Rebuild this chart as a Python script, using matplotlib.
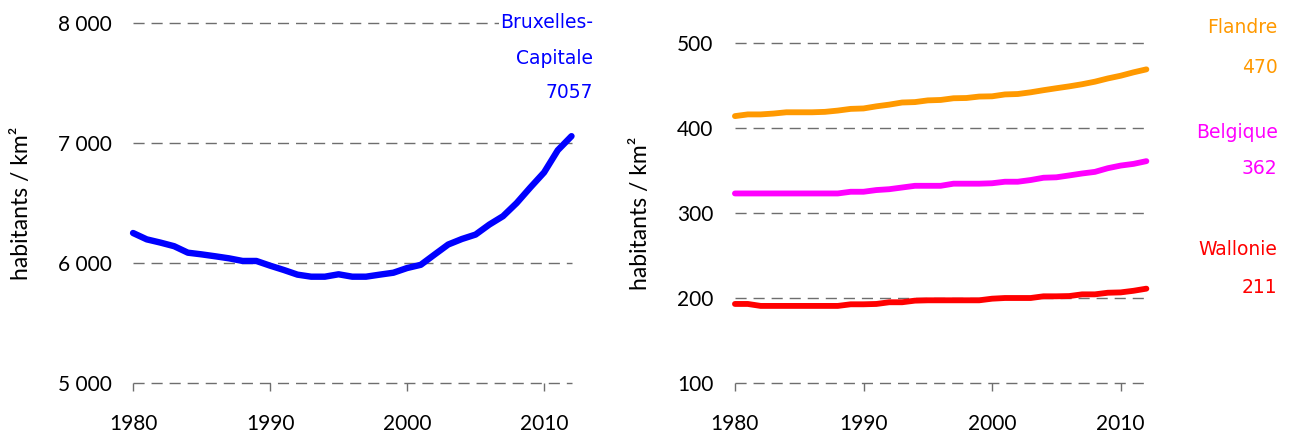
import numpy as np
import matplotlib
matplotlib.use('Agg')
import matplotlib.pyplot as plt

# Densité de population (habitants / km²), 1980-2012
annees = list(range(1980, 2013))

bruxelles = [6250, 6197, 6170, 6140, 6086, 6072, 6056, 6039, 6017, 6017,
             5978, 5942, 5903, 5886, 5886, 5906, 5886, 5886, 5903, 5919,
             5958, 5985, 6070, 6154, 6200, 6237, 6320, 6390, 6500, 6630,
             6755, 6940, 7057]

flandre = [414, 416, 416, 417, 418.5, 418.5, 418.5, 419, 420.5, 422.5,
           423, 425.5, 427.5, 430, 430.5, 432.5, 433, 435, 435.3, 437,
           437.3, 439.5, 440, 442, 444.5, 446.8, 449, 451.5, 454.5, 458.3,
           461.5, 465.5, 469]

belgique = [323, 323, 323, 323, 323, 323, 323, 323, 323, 325,
            325, 327, 328, 330, 332, 332, 332, 334.5, 334.5, 334.5,
            335, 336.8, 336.8, 338.8, 341.5, 342, 344.2, 346.5, 348.4, 352.7,
            355.8, 357.8, 361]

wallonie = [193, 193, 190.7, 190.7, 190.7, 190.7, 190.7, 190.7, 190.7, 192.6,
            192.6, 193, 195, 195, 196.9, 197.3, 197.3, 197.3, 197.3, 197.3,
            199.2, 200, 200, 200, 202, 202, 202.3, 204.3, 204.3, 206.2,
            206.6, 208.5, 211]

BLEU = '#0000FF'
ORANGE = '#FF9900'
MAGENTA = '#FF00FF'
ROUGE = '#FF0000'
GRIS = '#6E6E6E'

plt.rcParams['font.family'] = 'Lato'

fig = plt.figure(figsize=(12.93, 4.34), dpi=100)
ax1 = fig.add_axes([0.1029, 0.1175, 0.3391, 0.8295])
ax2 = fig.add_axes([0.5684, 0.1175, 0.3182, 0.7834])


def habiller(ax, yticks, ylabels, xlab):
    for s in ax.spines.values():
        s.set_visible(False)
    ax.set_xlim(1980, 2012)
    ax.set_ylim(yticks[0], yticks[-1])
    ax.set_yticks(yticks, labels=ylabels)
    ax.set_xticks([1980, 1990, 2000, 2010])
    # quadrillage pointillé (non coupé au bord de l'axe)
    for y in yticks:
        ax.axhline(y, color=GRIS, linestyle=(0, (8, 5)), linewidth=1,
                   clip_on=False, zorder=1)
    ax.tick_params(axis='y', length=0, pad=15.5, labelsize=15)
    ax.tick_params(axis='x', length=5.8, width=1, color=GRIS, pad=16.5,
                   labelsize=15)
    ax.set_ylabel('habitants / km²', fontsize=16.5)
    ax.yaxis.set_label_coords(xlab, 0.5)


# --- Bruxelles-Capitale
habiller(ax1, [5000, 6000, 7000, 8000], ['5 000', '6 000', '7 000', '8 000'],
         -0.231)
ax1.plot(annees, bruxelles, color=BLEU, lw=4.6, clip_on=False,
         solid_capstyle='round', zorder=3)
for txt, y in [('Bruxelles-', 8008), ('Capitale', 7708),
               ('{:d}'.format(bruxelles[-1]), 7417)]:
    ax1.text(2013.6, y, txt, color=BLEU, ha='right', va='center',
             fontsize=13.5, family='DejaVu Sans', clip_on=False, zorder=4,
             bbox=dict(facecolor='white', edgecolor='none', pad=1))

# --- Flandre, Belgique, Wallonie
habiller(ax2, [100, 200, 300, 400, 500], ['100', '200', '300', '400', '500'],
         -0.204)
for serie, coul in [(flandre, ORANGE), (belgique, MAGENTA), (wallonie, ROUGE)]:
    ax2.plot(annees, serie, color=coul, lw=4.2, clip_on=False,
             solid_capstyle='round', zorder=3)

etiquettes = [('Flandre', 518.8, ORANGE), ('470', 470.6, ORANGE),
              ('Belgique', 395.3, MAGENTA), ('362', 352.9, MAGENTA),
              ('Wallonie', 256.5, ROUGE), ('211', 211.8, ROUGE)]
for txt, y, coul in etiquettes:
    ax2.text(2022.2, y, txt, color=coul, ha='right', va='center',
             fontsize=13.5, family='DejaVu Sans', clip_on=False)

fig.savefig('out.png', dpi=100)
